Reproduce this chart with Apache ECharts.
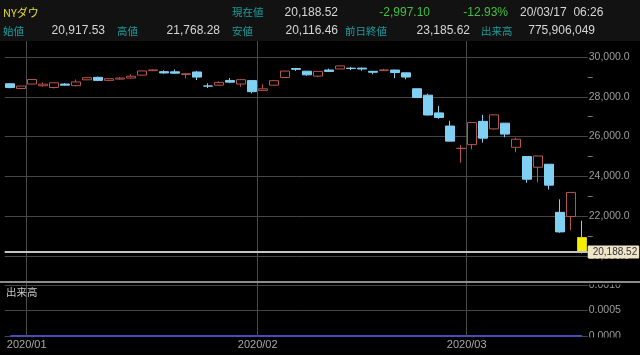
<!DOCTYPE html>
<html><head><meta charset="utf-8">
<script src="https://cdn.jsdelivr.net/npm/echarts@6/dist/echarts.min.js"></script>
<style>html,body{margin:0;padding:0;background:#000;}#c{width:640px;height:355px;}</style>
</head><body><div id="c"></div>
<script>
// ---- data ----
const dates = ['2019/12/30','2019/12/31',
 '2020/01/02','2020/01/03','2020/01/06','2020/01/07','2020/01/08','2020/01/09','2020/01/10','2020/01/13','2020/01/14','2020/01/15','2020/01/16','2020/01/17','2020/01/21','2020/01/22','2020/01/23','2020/01/24','2020/01/27','2020/01/28','2020/01/29','2020/01/30','2020/01/31',
 '2020/02/03','2020/02/04','2020/02/05','2020/02/06','2020/02/07','2020/02/10','2020/02/11','2020/02/12','2020/02/13','2020/02/14','2020/02/18','2020/02/19','2020/02/20','2020/02/21','2020/02/24','2020/02/25','2020/02/26','2020/02/27','2020/02/28',
 '2020/03/02','2020/03/03','2020/03/04','2020/03/05','2020/03/06','2020/03/09','2020/03/10','2020/03/11','2020/03/12','2020/03/13','2020/03/16'];
const opens = [28654.76,28414.64,28638.97,28553.33,28465.50,28639.18,28556.14,28851.57,28977.00,28823.77,28889.63,28940.78,29088.45,29313.31,29263.34,29255.27,29116.09,29246.43,28542.49,28582.07,28820.02,28640.16,28813.04,28319.65,28582.31,28970.38,29420.00,29286.92,29036.97,29343.62,29398.08,29436.06,29440.47,29279.60,29313.59,29344.06,29203.55,28402.93,28079.64,27188.36,26526.59,25390.49,25590.51,26762.47,26383.68,26671.92,25457.21,24992.36,24453.00,24604.63,22184.71,21973.82,20917.53];
const closes = [28462.14,28538.44,28868.80,28634.88,28703.38,28583.68,28745.09,28956.90,28823.77,28907.05,28939.67,29030.22,29297.64,29348.10,29196.04,29186.27,29160.09,28989.73,28535.80,28722.85,28734.45,28859.44,28256.03,28399.81,28807.63,29290.85,29379.77,29102.51,29276.82,29276.34,29551.42,29423.31,29398.08,29232.19,29348.03,29219.98,28992.41,27960.80,27081.36,26957.59,25766.64,25409.36,26703.32,25917.41,27090.86,26121.28,25864.78,23851.02,25018.16,23553.22,21200.62,23185.62,20188.52];
const lows = [28428.98,28376.49,28627.77,28500.36,28418.63,28565.28,28522.51,28844.31,28789.09,28779.63,28856.88,28904.83,29072.42,29289.91,29160.09,29152.38,28925.29,28843.63,28440.49,28547.94,28686.33,28500.00,28169.53,28319.65,28582.31,28970.38,29296.00,29056.98,28989.73,29241.00,29398.08,29345.10,29304.18,29127.48,29312.33,28935.93,28879.98,27949.64,27057.33,26890.36,25760.63,24681.01,25350.00,25690.00,26350.00,25960.00,25205.00,23677.00,23690.34,23328.32,21154.46,21285.37,20116.46];
const highs = [28664.69,28547.35,28872.80,28716.31,28708.02,28685.50,28866.18,28988.01,29009.07,28909.71,28990.00,29127.59,29300.32,29373.62,29332.16,29373.62,29186.27,29304.41,28677.21,28780.00,28944.68,28892.00,28813.04,28630.00,28841.09,29308.39,29430.00,29286.92,29277.77,29415.39,29568.57,29501.32,29463.00,29300.18,29406.75,29360.01,29203.55,28402.93,28149.36,27543.16,26790.00,25560.00,26706.00,27084.59,27102.34,26671.92,25940.00,24992.36,25020.99,24604.63,22837.95,23189.76,21768.28];
const volumes = dates.map(() => 0); // 出来高: all zero in the reference
const priceTicks = [20000, 22000, 24000, 26000, 28000, 30000];
const volumeTicks = [0, 0.0005, 0.0010];

const symbolName = 'NYダウ';
const headerLabels = ['現在値','始値','高値','安値','前日終値','出来高'];
const lastPrice = 20188.52;
const lastText = '20,188.52';
const changeText = '-2,997.10';
const pctText = '-12.93%';
const timeText = '20/03/17  06:26';
const openText = '20,917.53';
const highText = '21,768.28';
const lowText = '20,116.46';
const prevText = '23,185.62';
const volText = '775,906,049';

// ---- chart ----
const candleData = dates.map((d, i) => {
  const v = [opens[i], closes[i], lows[i], highs[i]];
  if (i === dates.length - 1) return { value: v, itemStyle: { color: '#f4f000', color0: '#f4f000', borderColor: '#d6d000', borderColor0: '#d6d000' } };
  return v;
});
const isMonthStart = (i) => i > 0 && i < dates.length && dates[i].slice(0, 7) !== dates[i - 1].slice(0, 7);
// month boundaries (between the last day of a month and the first of the next)
const monthBounds = dates.map((d, i) => i).filter(isMonthStart).map((i) => ({ xAxis: i - 0.5 }));

const NUM = '"Liberation Sans", "Noto Sans CJK JP", sans-serif';
const JP = '"Noto Sans CJK JP", sans-serif';
const TEAL = '#1c9d9d', VAL = '#d6d6d6', GREEN = '#3fc03f';
function txt(text, x, y, fill, font, align) {
  return { type: 'text', silent: true, z: 20, style: { text, x, y, fill, font, align: align || 'left', verticalAlign: 'middle' } };
}
const r1 = 12.5, r2 = 31;
const graphics = [
  { type: 'rect', silent: true, z: -10, shape: { x: 0, y: 0, width: 640, height: 41 }, style: { fill: '#121212' } },
  txt(symbolName, 3, r1, '#e6dc30', '11px ' + JP),
  txt(headerLabels[0], 232, r1, TEAL, '10.5px ' + JP),
  txt(lastText, 338, r1, VAL, '12px ' + NUM, 'right'),
  txt(changeText, 430, r1, GREEN, '12px ' + NUM, 'right'),
  txt(pctText, 508, r1, GREEN, '12px ' + NUM, 'right'),
  txt(timeText, 520, r1, VAL, '12px ' + NUM),
  txt(headerLabels[1], 3, r2, TEAL, '10.5px ' + JP),
  txt(openText, 105, r2, VAL, '12px ' + NUM, 'right'),
  txt(headerLabels[2], 117, r2, TEAL, '10.5px ' + JP),
  txt(highText, 220, r2, VAL, '12px ' + NUM, 'right'),
  txt(headerLabels[3], 232, r2, TEAL, '10.5px ' + JP),
  txt(lowText, 338, r2, VAL, '12px ' + NUM, 'right'),
  txt(headerLabels[4], 345, r2, TEAL, '10.5px ' + JP),
  txt(prevText, 470, r2, VAL, '12px ' + NUM, 'right'),
  txt(headerLabels[5], 481, r2, TEAL, '10.5px ' + JP),
  txt(volText, 595, r2, VAL, '12px ' + NUM, 'right'),
  txt('出来高', 6, 292, '#c8c8c8', '10.5px ' + JP),
  // clip masks for the partly hidden volume axis labels
  { type: 'rect', silent: true, z: 18, shape: { x: 586, y: 274, width: 54, height: 10.5 }, style: { fill: '#000' } },
  { type: 'rect', silent: true, z: 18, shape: { x: 586, y: 337.5, width: 54, height: 4 }, style: { fill: '#000' } },
  { type: 'line', silent: true, z: 19, shape: { x1: 0, y1: 282, x2: 640, y2: 282 }, style: { stroke: '#8c8c8c', lineWidth: 2 } }
];

const LEFT = 4.7, RIGHT = 52.3;
const GRIDC = '#454545';
const option = {
  animation: false,
  backgroundColor: '#000',
  graphic: graphics,
  grid: [
    { left: LEFT, right: RIGHT, top: 41, bottom: 18 },
    { left: LEFT, right: RIGHT, top: 57, bottom: 99.25 },
    { left: LEFT, right: RIGHT, top: 285, bottom: 19 }
  ],
  xAxis: [
    { type: 'value', gridIndex: 0, min: -0.5, max: dates.length - 0.5, show: false, splitLine: { show: false } },
    { type: 'category', gridIndex: 1, data: dates, boundaryGap: true,
      axisLine: { show: false }, axisTick: { show: false }, axisLabel: { show: false }, splitLine: { show: false } },
    { type: 'category', gridIndex: 2, data: dates, boundaryGap: true,
      axisLine: { show: false }, axisTick: { show: false }, splitLine: { show: false },
      axisLabel: { show: true, interval: (i) => isMonthStart(i), formatter: (v) => v.slice(0, 7),
        color: '#a8a8a8', fontSize: 11, fontFamily: 'Liberation Sans', margin: 3, padding: [0, 11, 0, 0] } }
  ],
  yAxis: [
    { type: 'value', gridIndex: 0, show: false, min: 0, max: 1, splitLine: { show: false } },
    { type: 'value', gridIndex: 1, position: 'right', min: priceTicks[0], max: priceTicks[priceTicks.length - 1], interval: priceTicks[1] - priceTicks[0],
      axisLine: { show: false }, axisTick: { show: false },
      minorTick: { show: true, splitNumber: 2, length: 5, lineStyle: { color: '#777' } },
      splitLine: { show: true, lineStyle: { color: GRIDC, width: 1 } },
      axisLabel: { color: '#9c9c9c', fontSize: 10.5, fontFamily: 'Liberation Sans', margin: 1,
        formatter: (v) => v.toLocaleString('en-US', { minimumFractionDigits: 1, maximumFractionDigits: 1 }) } },
    { type: 'value', gridIndex: 2, position: 'right', min: volumeTicks[0], max: volumeTicks[volumeTicks.length - 1], interval: volumeTicks[1] - volumeTicks[0],
      axisLine: { show: false }, axisTick: { show: false },
      splitLine: { show: true, lineStyle: { color: GRIDC, width: 1 } },
      axisLabel: { color: '#9c9c9c', fontSize: 10.5, fontFamily: 'Liberation Sans', margin: 1, formatter: (v) => v.toFixed(4) } }
  ],
  series: [
    { type: 'scatter', xAxisIndex: 0, yAxisIndex: 0, data: [], silent: true, z: 1,
      markLine: { silent: true, symbol: ['none', 'none'], animation: false,
        lineStyle: { color: '#4c4c4c', width: 1, type: 'solid' }, label: { show: false },
        data: monthBounds } },
    { type: 'candlestick', xAxisIndex: 1, yAxisIndex: 1, data: candleData, barWidth: 9,
      itemStyle: { color: '#000', color0: '#80d0f4', borderColor: '#b8534e', borderColor0: '#80d0f4', borderWidth: 1 },
      markLine: { silent: true, symbol: ['none', 'none'], animation: false,
        lineStyle: { color: '#c4c4c4', width: 2, type: 'solid' },
        label: { show: true, position: 'end', distance: 0, formatter: lastText, color: '#333', fontSize: 10,
          fontFamily: 'Liberation Sans', backgroundColor: '#efe5c9', padding: [2, 2, 1, 5], borderRadius: 1 },
        data: [{ yAxis: lastPrice }] } },
    { type: 'line', xAxisIndex: 2, yAxisIndex: 2, data: volumes, showSymbol: false, symbol: 'none',
      lineStyle: { color: '#4a4ab8', width: 2 } }
  ]
};
const chart = echarts.init(document.getElementById('c'));
chart.setOption(option);
</script>
</body></html>
